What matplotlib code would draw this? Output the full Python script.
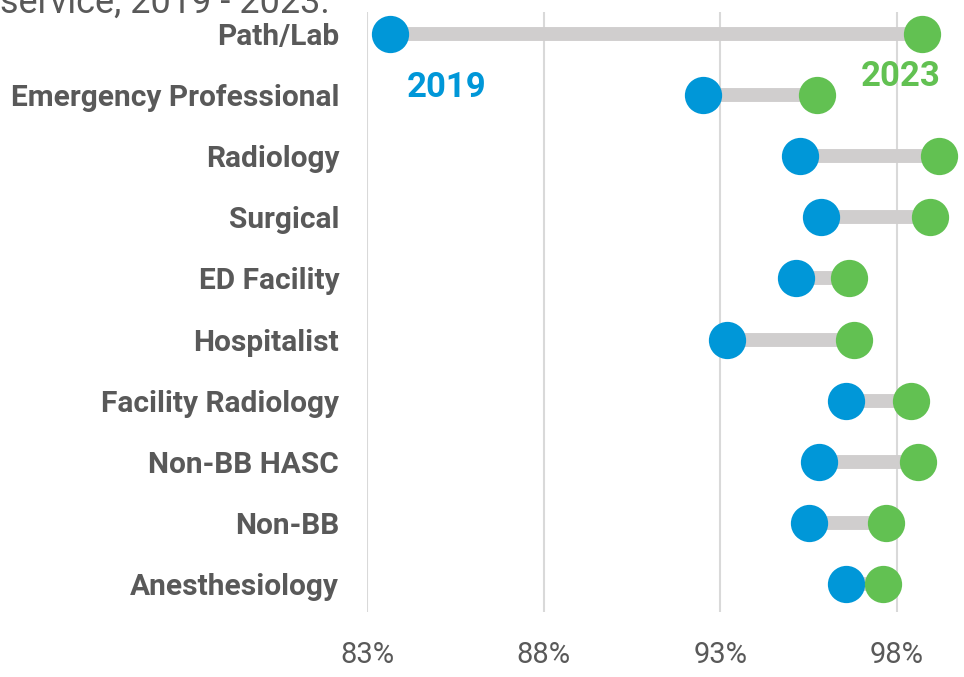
import matplotlib
matplotlib.use("Agg")
import matplotlib.pyplot as plt

# data
services = ['Path/Lab', 'Emergency Professional', 'Radiology', 'Surgical',
            'ED Facility', 'Hospitalist', 'Facility Radiology', 'Non-BB HASC',
            'Non-BB', 'Anesthesiology']
val_2019 = [83.65, 92.5, 95.25, 95.85, 95.15, 93.2, 96.55, 95.8, 95.5, 96.55]
val_2023 = [98.7, 95.75, 99.2, 98.95, 96.65, 96.8, 98.4, 98.6, 97.7, 97.6]
ticks = [83, 88, 93, 98]

blue = '#0097D8'
green = '#62C152'
grey_txt = '#595959'

fig = plt.figure(figsize=(9.64, 6.77), dpi=100)
ax = fig.add_axes([367/964, 65/677, 1 - 367/964, 600/677])

ypos = list(range(len(services)))
for y, a, b in zip(ypos, val_2019, val_2023):
    ax.plot([a, b], [y, y], color='#D0CECE', lw=10, solid_capstyle='butt', zorder=2)
ax.scatter(val_2019, ypos, s=720, color=blue, zorder=3, linewidths=0)
ax.scatter(val_2023, ypos, s=720, color=green, zorder=3, linewidths=0)

ax.text(85.25, 0.88, '2019', color=blue, fontsize=25, fontweight='bold',
        ha='center', va='center', family='Roboto')
ax.text(98.1, 0.69, '2023', color=green, fontsize=25, fontweight='bold',
        ha='center', va='center', family='Roboto')

ax.set_xlim(83, 99.9)
ax.set_ylim(9 + 28/61.1, -22/61.1)
ax.set_xticks(ticks)
ax.set_xticklabels([f'{t}%' for t in ticks], fontsize=21, color=grey_txt,
                   family='Roboto')
ax.set_yticks(ypos)
ax.set_yticklabels(services, fontsize=21.5, color=grey_txt, fontweight='bold',
                   family='Roboto')
ax.tick_params(axis='both', length=0)
ax.tick_params(axis='x', pad=21)
ax.tick_params(axis='y', pad=20)
ax.grid(axis='x', color='#D9D9D9', lw=1.5, zorder=0)
ax.set_axisbelow(True)
for s in ax.spines.values():
    s.set_visible(False)

fig.text(0.0, 1 - 13/677, 'service, 2019 - 2023.', fontsize=26, color=grey_txt,
         ha='left', va='baseline', family='Roboto')

fig.savefig('out.png', dpi=100)
